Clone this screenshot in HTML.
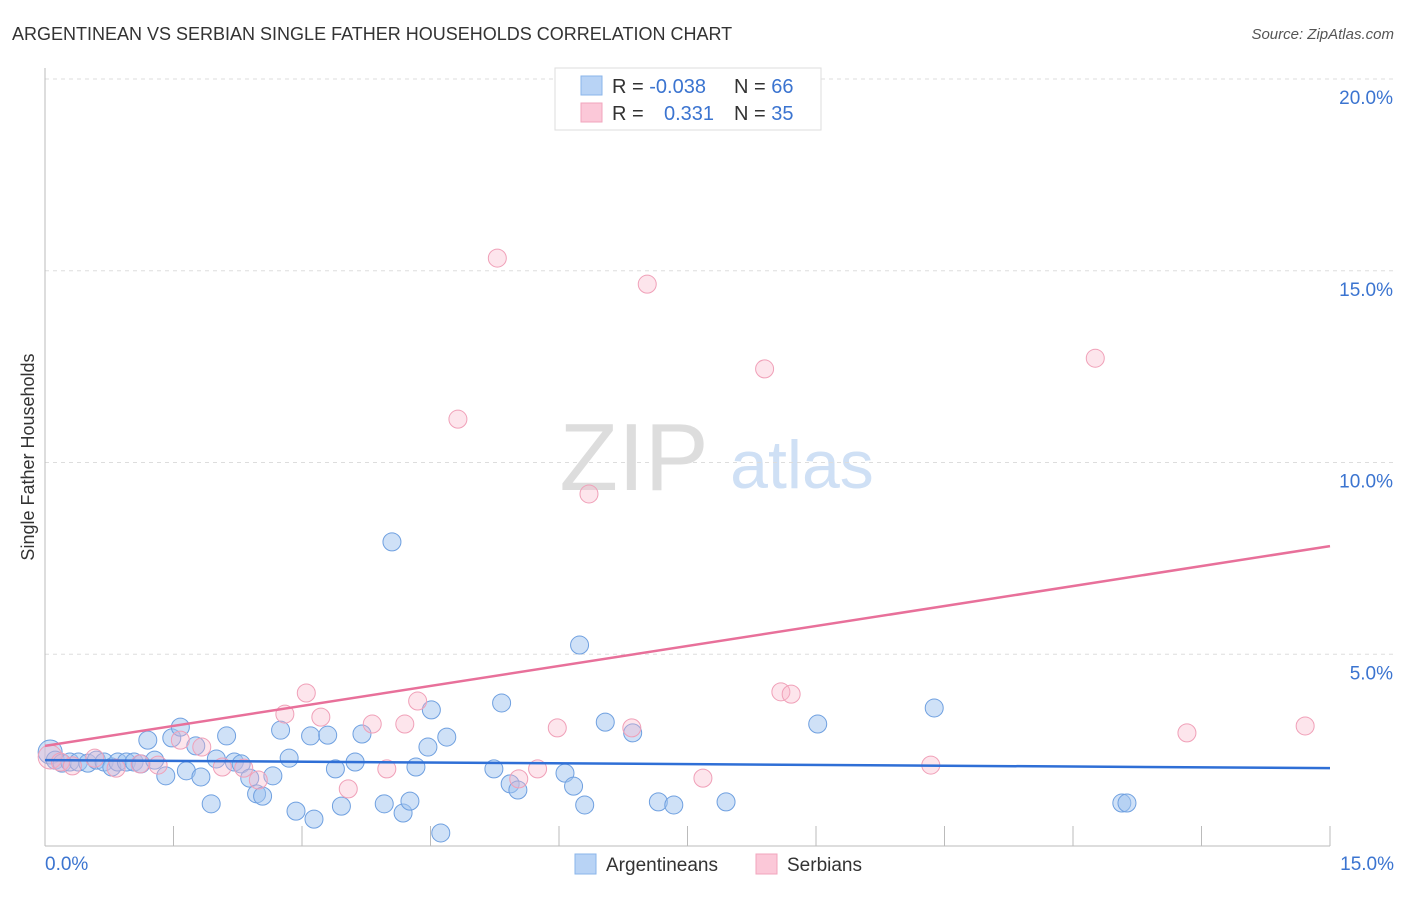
<!DOCTYPE html>
<html><head><meta charset="utf-8"><style>
body{margin:0;background:#fff;font-family:"Liberation Sans",sans-serif}
svg text{font-family:"Liberation Sans",sans-serif}
</style></head><body>
<svg id="chart" width="1406" height="892">
<text x="12" y="40" font-size="18" fill="#333">ARGENTINEAN VS SERBIAN SINGLE FATHER HOUSEHOLDS CORRELATION CHART</text>
<text x="1394" y="39" font-size="15" fill="#555" font-style="italic" text-anchor="end">Source: ZipAtlas.com</text>
<text x="634" y="490" font-size="96" fill="#ddd" font-family="Liberation Serif" text-anchor="middle">ZIP</text>
<text x="802" y="488" font-size="68" fill="#cfe0f5" text-anchor="middle">atlas</text>
<text transform="translate(34,457) rotate(-90)" font-size="18" fill="#333" text-anchor="middle">Single Father Households</text>
<g id="grid"></g><g id="ticks"></g><g id="pts"></g><g id="trend"></g>
<g>
<rect x="555" y="68" width="266" height="62" fill="#fff" stroke="#ddd"/>
<rect x="581" y="76" width="21" height="19" fill="#b8d3f5" stroke="#8ab4ea"/>
<rect x="581" y="103" width="21" height="19" fill="#fbc8d8" stroke="#f2a5bd"/>
<text x="612" y="93" font-size="20" fill="#333">R = <tspan fill="#3b74d0">-0.038</tspan><tspan x="734">N = </tspan><tspan fill="#3b74d0">66</tspan></text>
<text x="612" y="120" font-size="20" fill="#333">R = <tspan x="664" fill="#3b74d0">0.331</tspan><tspan x="734">N = </tspan><tspan fill="#3b74d0">35</tspan></text>
</g>
<g>
<rect x="575" y="854" width="21" height="20" fill="#b8d3f5" stroke="#8ab4ea"/>
<text x="606" y="871" font-size="19" fill="#333">Argentineans</text>
<rect x="756" y="854" width="21" height="20" fill="#fbc8d8" stroke="#f2a5bd"/>
<text x="787" y="871" font-size="19" fill="#333">Serbians</text>
</g>
</svg>
<script>
const blueX=[0.06,0.12,0.20,0.29,0.39,0.50,0.60,0.69,0.78,0.85,0.95,1.04,1.12,1.20,1.28,1.41,1.48,1.58,1.65,1.76,1.82,1.94,2.00,2.12,2.21,2.29,2.39,2.47,2.54,2.66,2.75,2.85,2.93,3.10,3.14,3.30,3.39,3.46,3.62,3.70,3.96,4.05,4.18,4.26,4.33,4.47,4.51,4.62,4.69,5.24,5.33,5.43,5.52,6.07,6.17,6.24,6.30,6.54,6.86,7.16,7.34,7.95,9.02,10.38,12.57,12.63];
const blueY=[2.45,2.24,2.16,2.19,2.19,2.16,2.24,2.19,2.06,2.19,2.19,2.19,2.14,2.76,2.24,1.83,2.82,3.10,1.96,2.61,1.80,1.10,2.27,2.87,2.19,2.14,1.77,1.36,1.30,1.83,3.02,2.29,0.91,2.87,0.70,2.89,2.01,1.04,2.19,2.92,1.10,7.93,0.86,1.17,2.06,2.58,3.55,0.34,2.84,2.01,3.73,1.62,1.46,1.90,1.56,5.24,1.07,3.23,2.95,1.15,1.07,1.15,3.18,3.60,1.12,1.12];
const pinkX=[0.06,0.18,0.32,0.58,0.83,1.11,1.32,1.58,1.83,2.07,2.32,2.49,2.80,3.05,3.22,3.54,3.82,3.99,4.20,4.35,4.82,5.28,5.53,5.75,5.98,6.35,6.85,7.03,7.68,8.40,8.59,8.71,10.34,12.26,13.33,14.71];
const pinkY=[2.32,2.19,2.09,2.29,2.03,2.14,2.11,2.76,2.58,2.06,2.03,1.72,3.44,3.99,3.36,1.49,3.18,2.01,3.18,3.78,11.13,15.33,1.75,2.01,3.08,9.18,3.08,14.65,1.77,12.44,4.02,3.96,2.11,12.72,2.95,3.13];
const blueTrend=[2.24,2.03];
const pinkTrend=[2.61,7.82];
const yTicks=[5,10,15,20];
const yTickLabels=["5.0%","10.0%","15.0%","20.0%"];
const xTicks=[0,1.5,3,4.5,6,7.5,9,10.5,12,13.5,15];
const NS="http://www.w3.org/2000/svg";
const X0=45,X1=1330,Y0=846,Y20=79;
const sx=v=>X0+(X1-X0)*v/15;
const sy=v=>Y0-(Y0-Y20)*v/20;
function mk(tag,attrs,parent){const e=document.createElementNS(NS,tag);for(const k in attrs)e.setAttribute(k,attrs[k]);document.getElementById(parent).appendChild(e);return e;}
yTicks.forEach((t,i)=>{
 const l=mk('line',{x1:X0,x2:1394,y1:sy(t),y2:sy(t),stroke:'#ddd','stroke-dasharray':'4,4'},'grid');
 
 
 const tx=mk('text',{x:1393,y:sy(t)+25,'font-size':19,fill:'#3b74d0','text-anchor':'end'},'grid');
 tx.textContent=yTickLabels[i];
 
 
});
const ax=mk('line',{x1:X0,x2:X0,y1:68,y2:Y0,stroke:'#bbb'},'ticks');


const bx=mk('line',{x1:X0,x2:X1,y1:Y0,y2:Y0,stroke:'#bbb'},'ticks');


xTicks.forEach(t=>{
 const l=mk('line',{x1:sx(t),x2:sx(t),y1:826,y2:Y0,stroke:'#bbb'},'ticks');
 
 
});
[[0,"0.0%","start",45],[15,"15.0%","end",1394]].forEach(a=>{
 const tx=mk('text',{x:a[3],y:870,'font-size':19,fill:'#3b74d0','text-anchor':a[2]},'ticks');
 tx.textContent=a[1];
 
 
});
blueX.forEach((v,i)=>{
 const c=mk('circle',{cx:sx(v),cy:sy(blueY[i]),r:i==0?12:9,fill:'rgba(160,196,240,0.5)',stroke:'#6fa0e0','stroke-width':1},'pts');
 
 
});
pinkX.forEach((v,i)=>{
 const c=mk('circle',{cx:sx(v),cy:sy(pinkY[i]),r:i==0?12:9,fill:'rgba(248,180,200,0.35)',stroke:'#f0a0b8','stroke-width':1},'pts');
 
 
});
const tb=mk('line',{x1:sx(0),x2:sx(15),y1:sy(blueTrend[0]),y2:sy(blueTrend[1]),stroke:'#2f6fd6','stroke-width':2.5},'trend');


const tp=mk('line',{x1:sx(0),x2:sx(15),y1:sy(pinkTrend[0]),y2:sy(pinkTrend[1]),stroke:'#e8709a','stroke-width':2.5},'trend');


</script>
</body></html>
